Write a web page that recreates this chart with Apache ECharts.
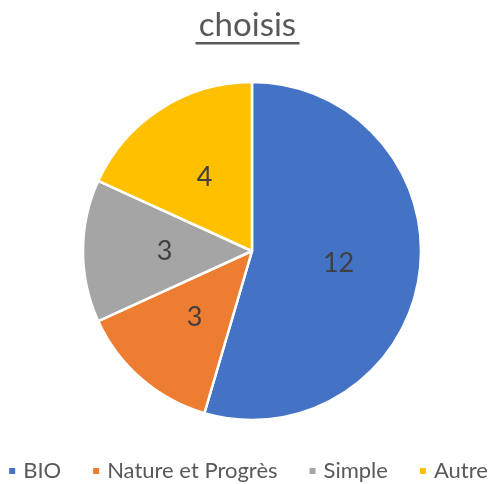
<!DOCTYPE html>
<html>
<head>
<meta charset="utf-8">
<script src="https://cdn.jsdelivr.net/npm/echarts@6/dist/echarts.min.js"></script>
<style>
  html, body { margin: 0; padding: 0; background: #fff; }
  #chart { width: 495px; height: 484px; }
</style>
</head>
<body>
<div id="chart"></div>
<script>
const categories = ['BIO', 'Nature et Progrès', 'Simple', 'Autre']
const values = [12, 3, 3, 4]
const colors = ['#4472C4', '#ED7D31', '#A5A5A5', '#FFC000']
const titleText = 'choisis'

const chart = echarts.init(document.getElementById('chart'), null, { renderer: 'canvas' })
const font = 'Lato, "Open Sans", sans-serif'

chart.setOption({
  animation: false,
  graphic: [
    {
      type: 'text', left: 'center', top: 9,
      style: { text: titleText, font: '33px ' + font, fill: '#595959' }
    },
    {
      type: 'rect', left: 'center', top: 42,
      shape: { width: 104, height: 2.5 },
      style: { fill: '#595959' }
    }
  ],
  legend: {
    top: 460,
    left: 'center',
    padding: 0,
    icon: 'rect',
    itemWidth: 8,
    itemHeight: 8,
    itemGap: 30,
    textStyle: { color: '#595959', fontSize: 22, fontFamily: font, padding: [0, 0, 0, 2] },
    data: categories
  },
  series: [{
    type: 'pie',
    center: [252, 251],
    radius: [0, 169],
    startAngle: 90,
    clockwise: true,
    itemStyle: { borderColor: '#fff', borderWidth: 2.5 },
    label: {
      show: true,
      position: 'inner',
      formatter: '{c}',
      color: '#404040',
      fontSize: 27,
      fontFamily: font
    },
    labelLine: { show: false },
    data: categories.map((name, i) => ({ name, value: values[i], itemStyle: { color: colors[i] } }))
  }]
})
</script>
</body>
</html>
